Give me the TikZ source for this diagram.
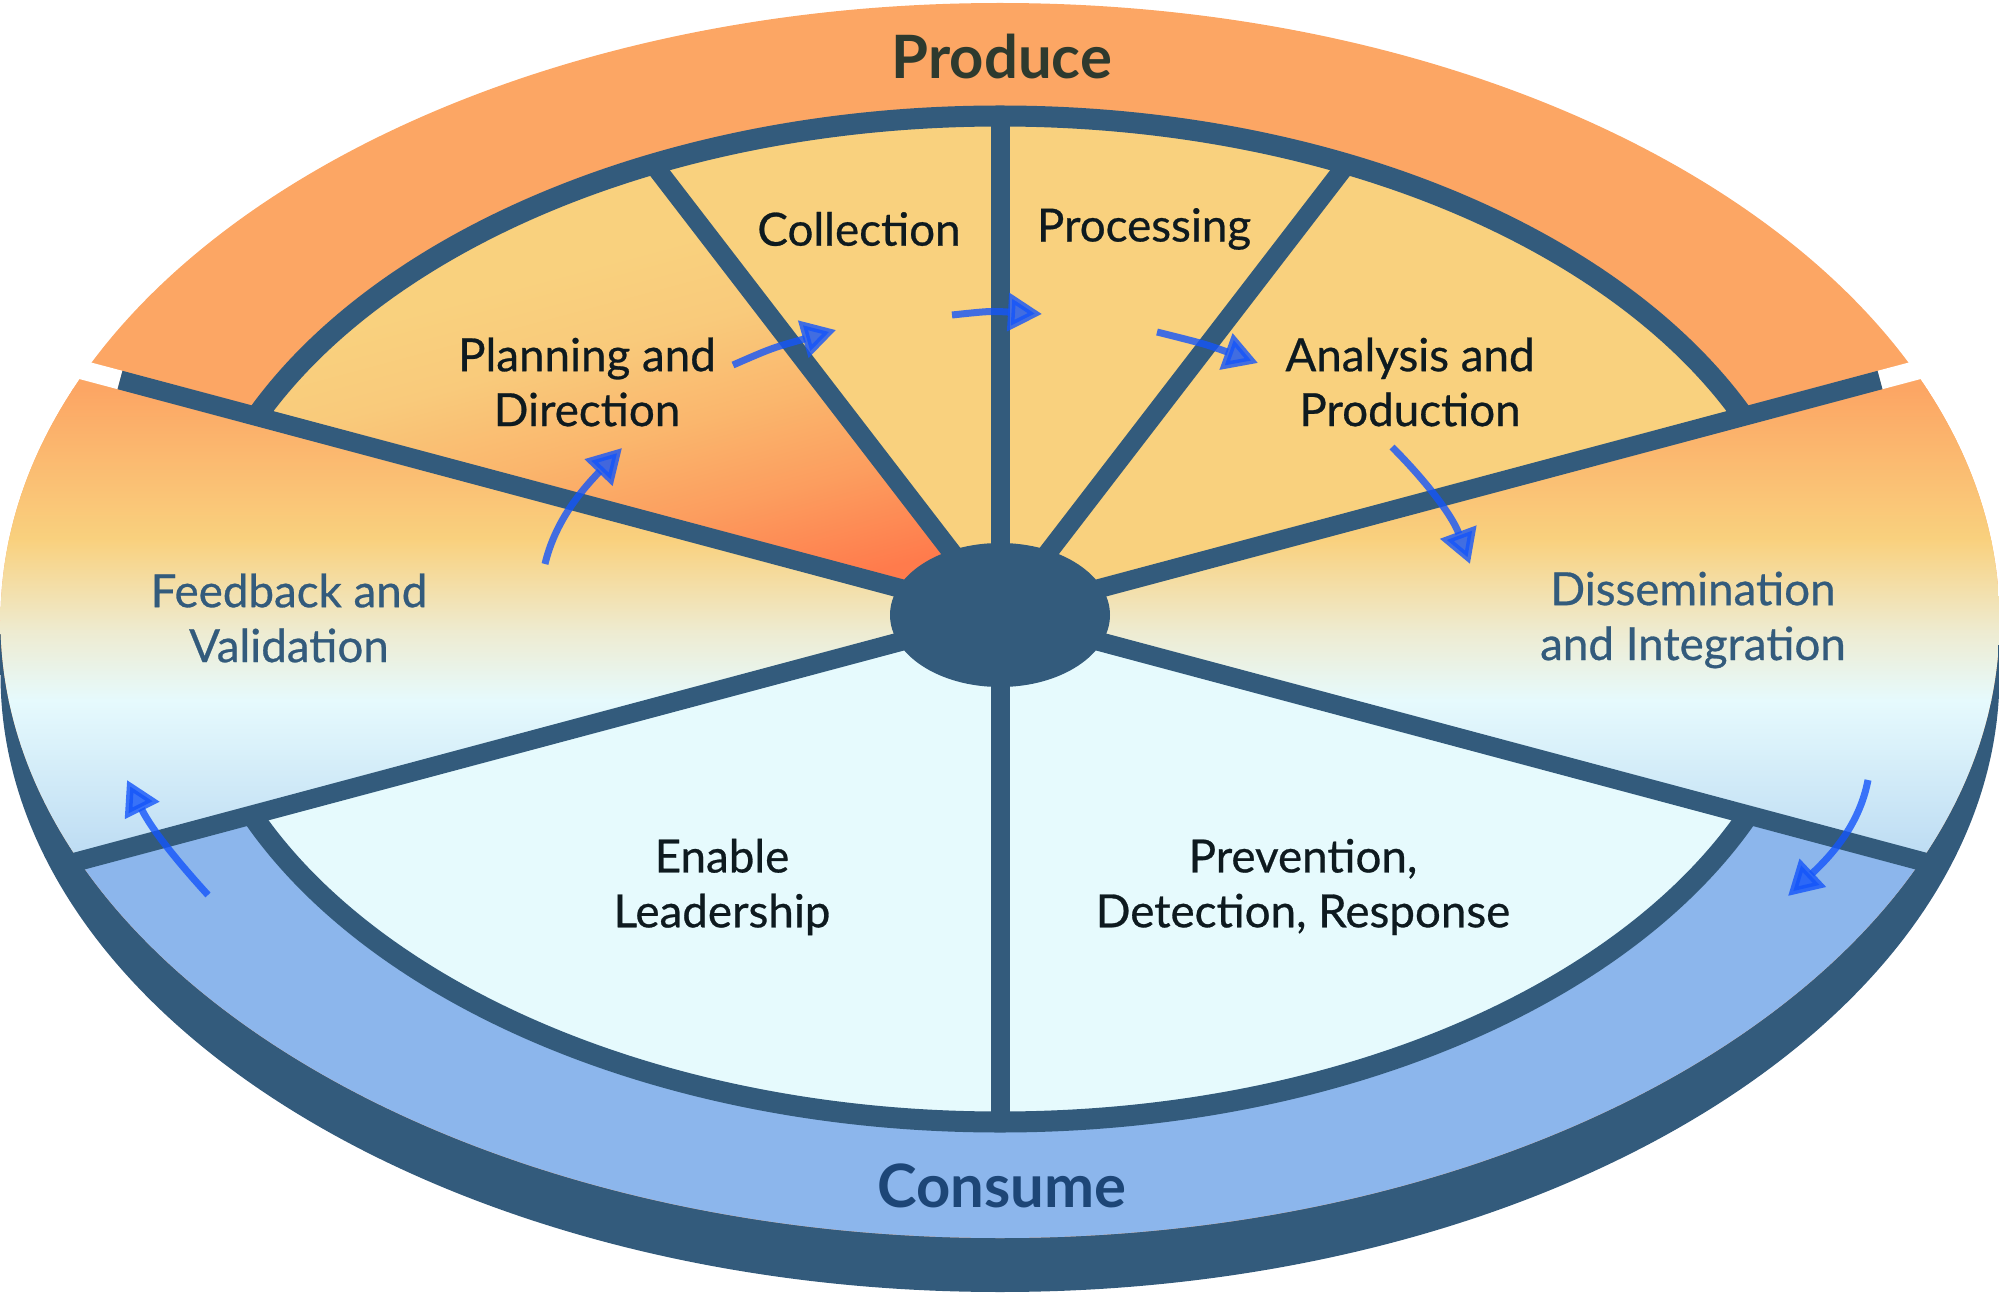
\documentclass[tikz,border=0pt]{standalone}
\usepackage{fontspec}
\setmainfont{Lato}
\newfontfamily\medfont{Lato}[FakeBold=0.6]
\usetikzlibrary{arrows.meta}
\definecolor{navy}{HTML}{335B7C}
\definecolor{producec}{HTML}{FCA664}
\definecolor{yellowc}{HTML}{F9D17E}
\definecolor{coralc}{HTML}{FF7B4C}
\definecolor{orA}{HTML}{FC9C5E}
\definecolor{orB}{HTML}{FAB56C}
\definecolor{orC}{HTML}{F9CA7B}
\definecolor{cyanl}{HTML}{E6FAFD}
\definecolor{consumec}{HTML}{8CB6EC}
\definecolor{paleC}{HTML}{EEEBD0}
\definecolor{lblue}{HTML}{B9D9F2}
\definecolor{textdark}{HTML}{0E1A1F}
\definecolor{producetext}{HTML}{2E3A2E}
\definecolor{consumetext}{HTML}{1D4677}
\definecolor{arrowc}{RGB}{20,85,250}
\tikzset{
  spoke/.style={navy, line width=1.9mm},
  gapline/.style={white, line width=1.9mm},
  ringline/.style={navy, line width=2.1mm},
  flowarrow/.style={arrowc, opacity=0.8, line width=0.7mm,
    -{Triangle[length=3.4mm, width=3.7mm]}},
  lab/.style={font=\medfont\fontsize{13pt}{15.6pt}\selectfont, text=textdark, align=center, inner sep=0pt},
  sidelab/.style={font=\medfont\fontsize{13pt}{15.6pt}\selectfont, text=navy, align=center, inner sep=0pt},
  biglab/.style={font=\fontsize{17pt}{20pt}\selectfont\bfseries, inner sep=0pt}
}
\begin{document}
\begin{tikzpicture}[x=0.01cm, y=-0.01cm]
\useasboundingbox (0,0) rectangle (1999,1297);
\coordinate (H) at (1000,615);
% far points along spokes
\coordinate (f5) at (-1643,-90);
\coordinate (f6) at (3643,-90);
\coordinate (f7) at (-1757,1353);
\coordinate (f8) at (3757,1353);
\coordinate (f3) at (-20,-711);
% side of the disk
\fill[navy] (1000,674.5) ellipse [x radius=999.5, y radius=617.5];
\fill[navy] (0.5,620.5) rectangle (1999.5,674.5);
% top face
\begin{scope}
\clip (1000,620.5) ellipse [x radius=999.5, y radius=617.5];
\fill[producec] (-10,-10) rectangle (2010,1310);
\fill[consumec] (H) -- (f7) -- (-1757,3000) -- (3757,3000) -- (f8) -- cycle;
 \begin{scope}
 \clip (1000,619) ellipse [x radius=812, y radius=503];
 \fill[yellowc] (H) -- (f5) -- (-1643,-2000) -- (3643,-2000) -- (f6) -- cycle;
 \fill[cyanl] (H) -- (f7) -- (-1757,3000) -- (3757,3000) -- (f8) -- cycle;
  \begin{scope}
  \clip (H) -- (f5) -- (f3) -- cycle;
  \begin{scope}[transform canvas={rotate around={15:(H)}}]
  \fill[coralc] (-300,539) rectangle (1600,900);
  \shade[top color=orA, bottom color=coralc] (-300,443) rectangle (1600,540);
  \shade[top color=orB, bottom color=orA] (-300,353) rectangle (1600,444);
  \shade[top color=orC, bottom color=orB] (-300,254) rectangle (1600,354);
  \shade[top color=yellowc, bottom color=orC] (-300,169) rectangle (1600,255);
  \fill[yellowc] (-300,-300) rectangle (1600,170);
  \end{scope}
  \end{scope}
 \end{scope}
\draw[ringline] (1000,619) ellipse [x radius=812, y radius=503];
 % side wedges (Feedback / Dissemination)
 \begin{scope}
 \clip (H) -- (f5) -- (f7) -- cycle (H) -- (f6) -- (f8) -- cycle;
 \fill[producec] (-10,-10) rectangle (2010,391);
 \shade[top color=producec, bottom color=yellowc] (-10,390) rectangle (2010,541);
 \shade[top color=yellowc, bottom color=paleC] (-10,540) rectangle (2010,631);
 \shade[top color=paleC, bottom color=cyanl] (-10,630) rectangle (2010,701);
 \shade[top color=cyanl, bottom color=lblue] (-10,700) rectangle (2010,871);
 \fill[lblue] (-10,870) rectangle (2010,1310);
 \end{scope}
\end{scope}
% spokes
\coordinate (s1) at (1000,116);
\coordinate (s2) at (1000,1122);
\coordinate (s3) at (650,160);
\coordinate (s4) at (1350,160);
\coordinate (s5) at (120,380);
\coordinate (w5) at (-57,333);
\coordinate (s6) at (1880,380);
\coordinate (w6) at (2057,333);
\coordinate (s7) at (72,863);
\coordinate (s8) at (1928,863);
\draw[gapline] (s5) -- (w5);
\draw[gapline] (s6) -- (w6);
\draw[spoke] (H) -- (s1);
\draw[spoke] (H) -- (s2);
\draw[spoke] (H) -- (s3);
\draw[spoke] (H) -- (s4);
\draw[spoke] (H) -- (s5);
\draw[spoke] (H) -- (s6);
\draw[spoke] (H) -- (s7);
\draw[spoke] (H) -- (s8);
% hub
\fill[navy] (H) ellipse [x radius=110, y radius=72];
% flow arrows
\coordinate (a1s) at (733,365);  \coordinate (a1e) at (836,330);
\coordinate (a2s) at (952,315);  \coordinate (a2e) at (1042,314);
\coordinate (a3s) at (1157,332); \coordinate (a3e) at (1258,363);
\coordinate (a4s) at (1392,447); \coordinate (a4e) at (1470,564);
\coordinate (a5s) at (1868,780); \coordinate (a5e) at (1788,896);
\coordinate (a6s) at (208,895);  \coordinate (a6e) at (127,780);
\coordinate (a7s) at (545,564);  \coordinate (a7e) at (622,448);
\draw[flowarrow] (a1s) .. controls (772,348) .. (a1e);
\draw[flowarrow] (a2s) .. controls (990,311) .. (a2e);
\draw[flowarrow] (a3s) .. controls (1205,344) .. (a3e);
\draw[flowarrow] (a4s) .. controls (1425,480) and (1452,515) .. (a4e);
\draw[flowarrow] (a5s) .. controls (1860,822) and (1835,852) .. (a5e);
\draw[flowarrow] (a6s) .. controls (178,862) and (152,830) .. (a6e);
\draw[flowarrow] (a7s) .. controls (555,522) and (580,492) .. (a7e);
% labels
\node[biglab, text=producetext] (produce) at (1002,57) {Produce};
\node[biglab, text=consumetext] (consume) at (1002,1186) {Consume};
\node[lab] (collection) at (859,229) {Collection};
\node[lab] (processing) at (1144,229) {Processing};
\node[lab] (planning) at (587,382) {Planning and\\Direction};
\node[lab] (analysis) at (1410,382) {Analysis and\\Production};
\node[sidelab] (feedback) at (289,618) {Feedback and\\Validation};
\node[sidelab] (dissem) at (1693,620) {Dissemination\\and Integration};
\node[lab] (enable) at (722,887) {Enable\\Leadership};
\node[lab] (prevention) at (1303,887) {Prevention,\\Detection, Response};
\end{tikzpicture}
\end{document}
